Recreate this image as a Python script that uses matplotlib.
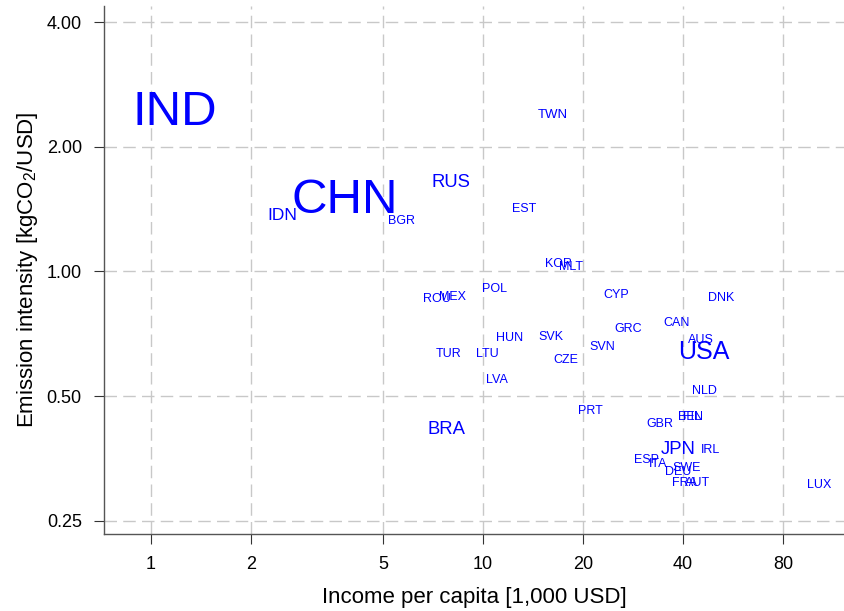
import matplotlib
matplotlib.use('Agg')
import matplotlib.pyplot as plt
from matplotlib.ticker import FixedLocator, FixedFormatter, NullLocator

plt.rcParams['font.family'] = ['Liberation Sans', 'DejaVu Sans']
plt.rcParams['mathtext.fontset'] = 'custom'
plt.rcParams['mathtext.rm'] = 'Liberation Sans'
plt.rcParams['mathtext.it'] = 'Liberation Sans'
plt.rcParams['lines.scale_dashes'] = False

# Country data
countries = ['IND', 'CHN', 'IDN', 'BGR', 'RUS', 'TWN', 'EST', 'KOR', 'MLT', 'ROU',
             'MEX', 'POL', 'CYP', 'DNK', 'GRC', 'CAN', 'AUS', 'USA', 'HUN', 'SVK',
             'SVN', 'TUR', 'LTU', 'CZE', 'LVA', 'NLD', 'PRT', 'BEL', 'FIN', 'GBR',
             'BRA', 'JPN', 'IRL', 'ESP', 'ITA', 'SWE', 'DEU', 'FRA', 'AUT', 'LUX']
income = [1.18, 3.82, 2.48, 5.66, 8.0, 16.2, 13.3, 16.8, 18.4, 7.26,
          8.11, 10.85, 25.1, 52.0, 27.3, 38.3, 45.3, 46.2, 12.0, 16.0,
          22.8, 7.89, 10.3, 17.75, 11.0, 46.5, 21.0, 41.9, 42.8, 34.1,
          7.78, 38.6, 48.5, 31.1, 33.6, 41.1, 38.6, 40.5, 44.3, 102.5]
intensity = [2.49, 1.53, 1.38, 1.335, 1.66, 2.41, 1.43, 1.05, 1.034, 0.866,
             0.875, 0.915, 0.885, 0.870, 0.733, 0.758, 0.689, 0.648, 0.697, 0.701,
             0.663, 0.638, 0.638, 0.617, 0.552, 0.519, 0.465, 0.449, 0.449, 0.432,
             0.420, 0.376, 0.374, 0.354, 0.346, 0.337, 0.331, 0.310, 0.310, 0.308]
label_size = [35.5, 35.5, 12.5, 9, 13.3, 9.5, 9, 9, 9, 9,
              9, 9, 9, 9, 9, 9, 9, 18, 9, 9,
              9, 9, 9, 9, 9, 9, 9, 9, 9, 9,
              13.3, 13.3, 9, 9, 9, 9, 9, 9, 9, 9]

x_ticks = [1, 2, 5, 10, 20, 40, 80]
y_ticks = [0.25, 0.5, 1, 2, 4]
y_tick_labels = ['0.25', '0.50', '1.00', '2.00', '4.00']

fig = plt.figure(figsize=(8.45, 6.11), dpi=100)
ax = fig.add_axes([104 / 845, 1 - 534 / 611, 1 - 104 / 845, (534 - 6) / 611])

ax.set_xscale('log')
ax.set_yscale('log')
ax.set_xlim(0.722, 122.8)
ax.set_ylim(0.232, 4.38)

for c, x, y, s in zip(countries, income, intensity, label_size):
    ax.text(x, y, c, fontsize=s, color='blue', ha='center', va='center_baseline')

ax.xaxis.set_major_locator(FixedLocator(x_ticks))
ax.xaxis.set_major_formatter(FixedFormatter([str(t) for t in x_ticks]))
ax.xaxis.set_minor_locator(NullLocator())
ax.yaxis.set_major_locator(FixedLocator(y_ticks))
ax.yaxis.set_major_formatter(FixedFormatter(y_tick_labels))
ax.yaxis.set_minor_locator(NullLocator())

ax.grid(True, which='major', color='#c8c8c8', linewidth=1.0, dashes=(9, 4.5))
ax.set_axisbelow(True)

for side in ['top', 'right']:
    ax.spines[side].set_visible(False)
for side in ['left', 'bottom']:
    ax.spines[side].set_color('#555555')
    ax.spines[side].set_linewidth(1.0)

ax.tick_params(axis='both', direction='out', length=7, width=0.8, color='#333333',
               labelsize=13, labelcolor='black')
ax.tick_params(axis='x', pad=9)
ax.tick_params(axis='y', pad=9)

ax.set_xlabel('Income per capita [1,000 USD]', fontsize=16, labelpad=10)
ax.set_ylabel(r'Emission intensity [kgCO$_2$/USD]', fontsize=16, labelpad=5)

fig.savefig('out.png', dpi=100)
